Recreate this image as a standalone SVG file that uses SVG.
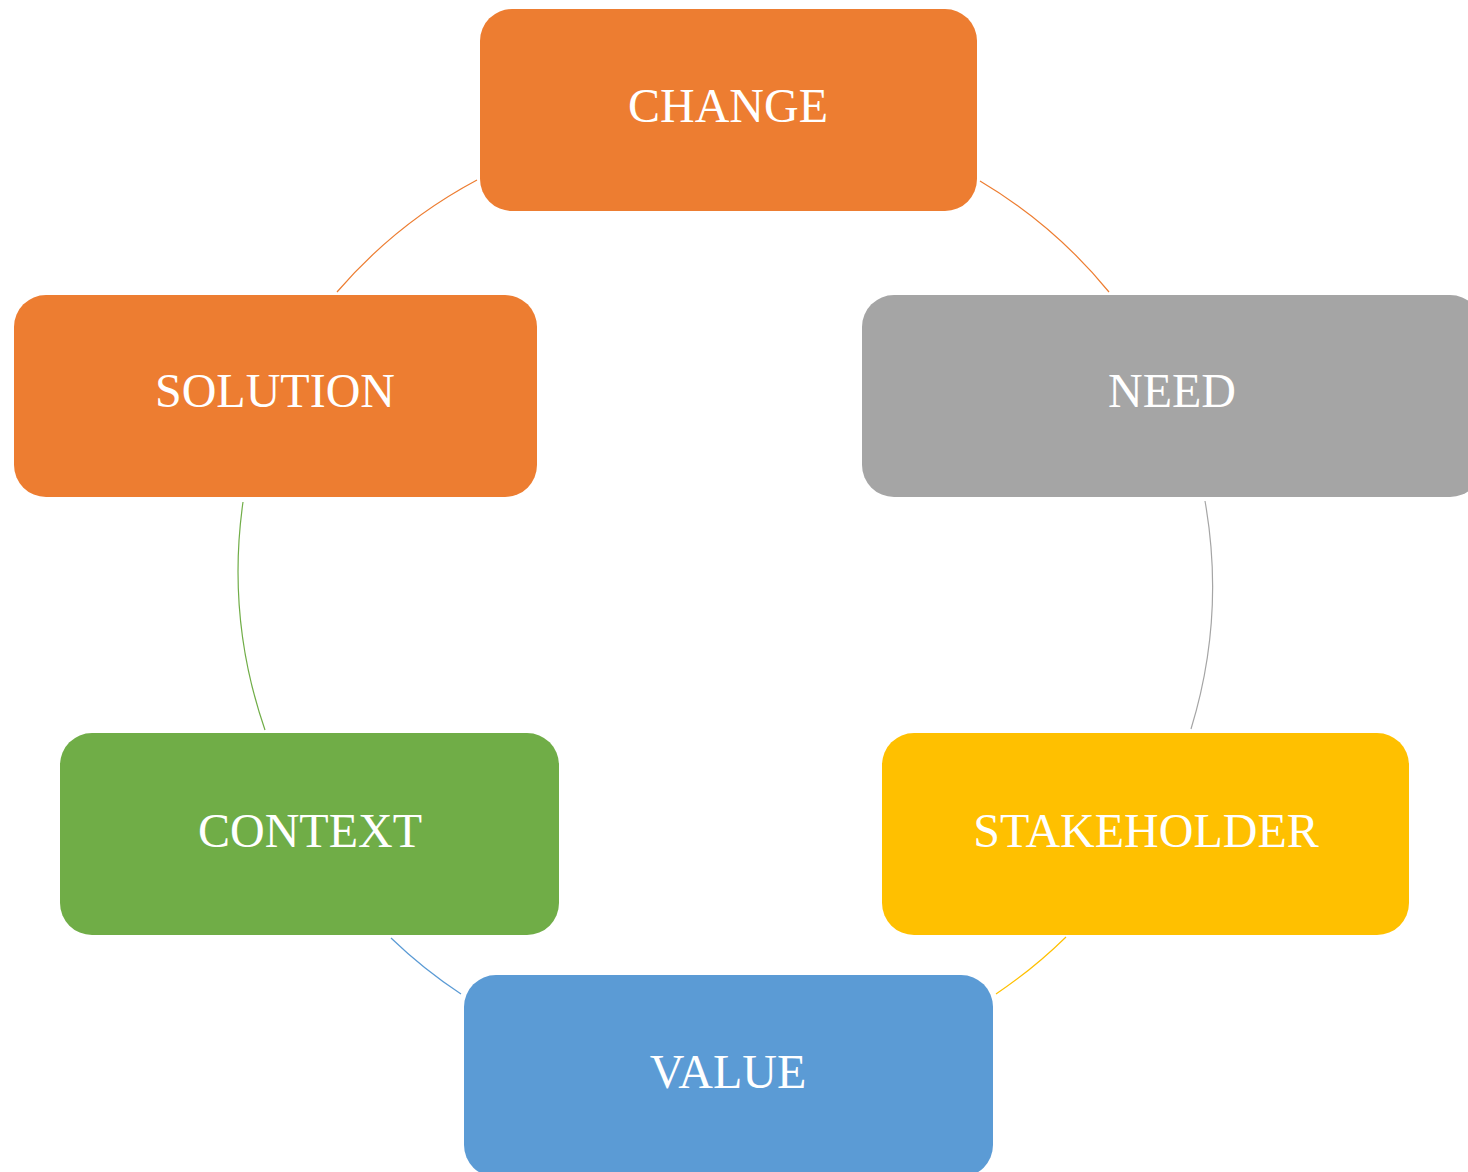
<svg xmlns="http://www.w3.org/2000/svg" width="1468" height="1172" viewBox="0 0 1468 1172">
<style>
.box{stroke:none}
.lbl{font-family:"Liberation Serif","Times New Roman",serif;font-size:48px;fill:#ffffff;text-anchor:middle}
.arc{fill:none;stroke-width:1.2}
</style>
<rect width="1468" height="1172" fill="#ffffff"/>
<g id="connectors">
<path class="arc" stroke="#ED7D31" d="M980 181 A487 487 0 0 1 1109 292"/>
<path class="arc" stroke="#A5A5A5" d="M1205 501 A487 487 0 0 1 1191 729"/>
<path class="arc" stroke="#FFC000" d="M1066 937 A487 487 0 0 1 996 994"/>
<path class="arc" stroke="#5B9BD5" d="M461 994 A487 487 0 0 1 391 938"/>
<path class="arc" stroke="#70AD47" d="M265 730 A487 487 0 0 1 243 502"/>
<path class="arc" stroke="#ED7D31" d="M337 292 A487 487 0 0 1 477 180"/>
</g>
<g id="change">
<rect class="box" x="480" y="9" width="497" height="202" rx="32" fill="#ED7D31"/>
<text class="lbl" x="728" y="122">CHANGE</text>
</g>
<g id="need">
<rect class="box" x="862" y="295" width="620" height="202" rx="32" fill="#A5A5A5"/>
<text class="lbl" x="1172" y="407">NEED</text>
</g>
<g id="stakeholder">
<rect class="box" x="882" y="733" width="527" height="202" rx="32" fill="#FFC000"/>
<text class="lbl" x="1146" y="847">STAKEHOLDER</text>
</g>
<g id="value">
<rect class="box" x="464" y="975" width="529" height="202" rx="32" fill="#5B9BD5"/>
<text class="lbl" x="728" y="1088">VALUE</text>
</g>
<g id="context">
<rect class="box" x="60" y="733" width="499" height="202" rx="32" fill="#70AD47"/>
<text class="lbl" x="310" y="847">CONTEXT</text>
</g>
<g id="solution">
<rect class="box" x="14" y="295" width="523" height="202" rx="32" fill="#ED7D31"/>
<text class="lbl" x="275" y="407">SOLUTION</text>
</g>
</svg>
